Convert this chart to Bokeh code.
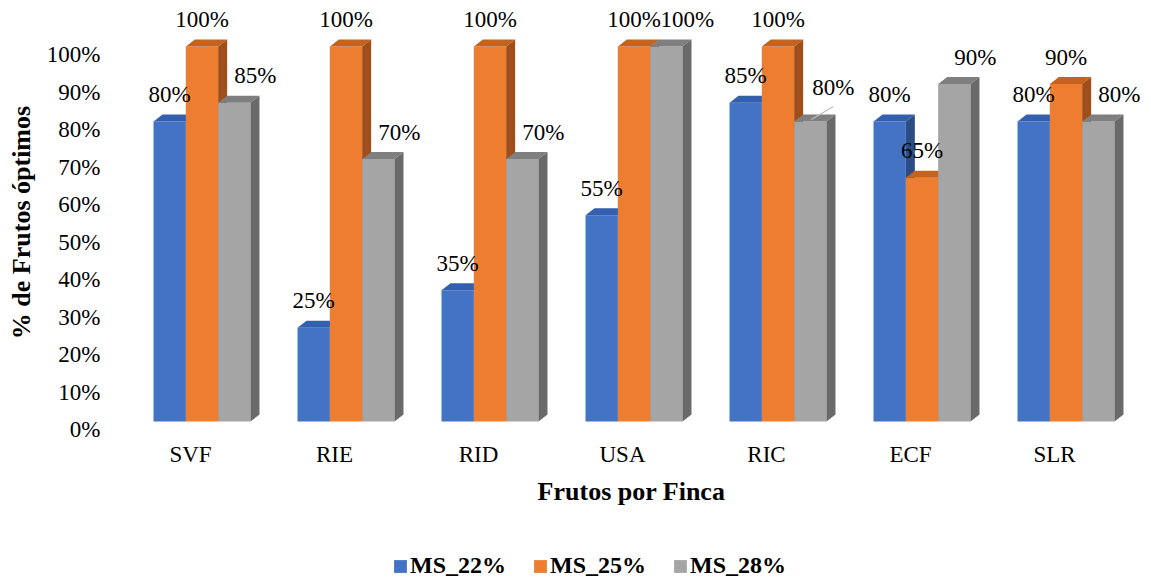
from bokeh.plotting import figure
from bokeh.models import Range1d, FixedTicker, Legend, LegendItem
from bokeh.layouts import column
from bokeh.embed import file_html
from bokeh.resources import INLINE
from bokeh.core.properties import value

# ---------------- data ----------------
categories = ["SVF", "RIE", "RID", "USA", "RIC", "ECF", "SLR"]
series_names = ["MS_22%", "MS_25%", "MS_28%"]
ms22 = [80, 25, 35, 55, 85, 80, 80]
ms25 = [100, 100, 100, 100, 100, 65, 90]
ms28 = [85, 70, 70, 100, 80, 90, 80]
y_ticks = [0, 10, 20, 30, 40, 50, 60, 70, 80, 90, 100]
y_tick_labels = ["0%", "10%", "20%", "30%", "40%", "50%", "60%", "70%", "80%", "90%", "100%"]
x_title = "Frutos por Finca"
y_title = "% de Frutos óptimos"

series_values = [ms22, ms25, ms28]

# ---------------- styles ----------------
front_colors = ["#4472C4", "#ED7D31", "#A5A5A5"]
top_colors = ["#3260AE", "#C4621F", "#7F7F7F"]
side_colors = ["#2C4C85", "#9E4F1A", "#6A6A6A"]
FONT = "Liberation Serif"

W, H = 1150, 540
LEG_H = 41
FL, FR, FT, FB = 118, 1144, 4, 440          # frame edges in canvas px
CAT_PX = 144                                 # px per category
X0 = -0.5
X1 = X0 + (FR - FL) / CAT_PX
XPP = 1 / CAT_PX                             # data units per px (x)
YPX = 3.75                                   # px per y unit
ZERO_PX = 429                                # canvas px of axis zero
Y0 = -(FB - ZERO_PX) / YPX
Y1 = (ZERO_PX - FT) / YPX

BASE = 8 / YPX          # bars sit slightly above the axis zero (3D floor)
DX = 9 * XPP            # depth offset
DY = 7 / YPX
BW = 32.33 * XPP        # bar width
GROUP_LEFT = -37 * XPP  # left edge of first bar relative to category centre
LABEL_UP = -27          # data label baseline offset (px) above bar front top

p = figure(width=W, height=H, output_backend="svg", toolbar_location=None,
           x_range=Range1d(X0, X1), y_range=Range1d(Y0, Y1),
           min_border_left=FL, min_border_right=W - FR,
           min_border_top=FT, min_border_bottom=H - FB)
p.outline_line_color = None
p.grid.visible = False
p.background_fill_color = "white"
p.border_fill_color = "white"

for si, vals in enumerate(series_values):
    lefts, rights, tops, bottoms = [], [], [], []
    top_xs, top_ys, side_xs, side_ys = [], [], [], []
    for ci, v in enumerate(vals):
        l = ci + GROUP_LEFT + si * BW
        r = l + BW
        b = BASE
        t = BASE + v
        lefts.append(l); rights.append(r); tops.append(t); bottoms.append(b)
        top_xs.append([l, r, r + DX, l + DX])
        top_ys.append([t, t, t + DY, t + DY])
        side_xs.append([r, r + DX, r + DX, r])
        side_ys.append([b, b + DY, t + DY, t])
    p.quad(left=lefts, right=rights, top=tops, bottom=bottoms,
           fill_color=front_colors[si], line_color=None)
    p.patches(xs=top_xs, ys=top_ys, fill_color=top_colors[si], line_color=None)
    p.patches(xs=side_xs, ys=side_ys, fill_color=side_colors[si], line_color=None)

# ---------------- data labels ----------------
LEADER = (4, 2)   # (category, series) whose label is moved up with a leader line
for si, vals in enumerate(series_values):
    xs, ys, txt = [], [], []
    for ci, v in enumerate(vals):
        if (ci, si) == LEADER:
            continue
        xs.append(ci + GROUP_LEFT + si * BW + BW / 2)
        ys.append(BASE + v)
        txt.append(f"{v}%")
    p.text(x=xs, y=ys, text=txt, text_align="center", text_baseline="alphabetic",
           x_offset=21 if si == 2 else 0, y_offset=LABEL_UP,
           text_font=value(FONT), text_font_size="23px", text_color="black")

ci, si = LEADER
v = series_values[si][ci]
cx = ci + GROUP_LEFT + si * BW + BW / 2
p.segment(x0=[cx + 1 * XPP], y0=[BASE + v + 2 / YPX],
          x1=[cx + 23 * XPP], y1=[BASE + v + 15 / YPX],
          line_color="#BFBFBF", line_width=1.2)
p.text(x=[cx], y=[BASE + v], text=[f"{v}%"], text_align="center",
       text_baseline="alphabetic", x_offset=23, y_offset=LABEL_UP - 7,
       text_font=value(FONT), text_font_size="23px", text_color="black")

# ---------------- axes ----------------
ya = p.yaxis[0]
ya.ticker = FixedTicker(ticks=y_ticks)
ya.major_label_overrides = {t: l for t, l in zip(y_ticks, y_tick_labels)}
ya.axis_line_color = None
ya.major_tick_line_color = None
ya.minor_tick_line_color = None
ya.major_tick_out = 0
ya.minor_tick_out = 0
ya.major_label_standoff = 18
ya.major_label_text_font = FONT
ya.major_label_text_font_size = "23px"
ya.major_label_text_color = "black"
ya.axis_label = y_title
ya.axis_label_text_font = FONT
ya.axis_label_text_font_style = "bold"
ya.axis_label_text_font_size = "26px"
ya.axis_label_text_color = "black"
ya.axis_label_standoff = 8

xa = p.xaxis[0]
xa.ticker = FixedTicker(ticks=list(range(len(categories))))
xa.major_label_overrides = {i: c for i, c in enumerate(categories)}
xa.axis_line_color = None
xa.major_tick_line_color = None
xa.minor_tick_line_color = None
xa.major_tick_out = 0
xa.minor_tick_out = 0
xa.major_label_standoff = 1
xa.major_label_text_font = FONT
xa.major_label_text_font_size = "23px"
xa.major_label_text_color = "black"
xa.axis_label = x_title
xa.axis_label_text_font = FONT
xa.axis_label_text_font_style = "bold"
xa.axis_label_text_font_size = "26px"
xa.axis_label_text_color = "black"
xa.axis_label_standoff = 7

# ---------------- legend (own strip below the chart) ----------------
pl = figure(width=W, height=LEG_H, output_backend="svg", toolbar_location=None,
            x_range=Range1d(0, 1), y_range=Range1d(0, 1),
            x_axis_type=None, y_axis_type=None,
            min_border_left=0, min_border_right=0, min_border_top=0, min_border_bottom=0)
pl.outline_line_color = None
pl.grid.visible = False
pl.background_fill_color = "white"
pl.border_fill_color = "white"
swatches = []
for si, name in enumerate(series_names):
    # swatch renderer for the legend only (placed outside the visible range)
    swatches.append(pl.quad(left=[2], right=[3], top=[3], bottom=[2],
                            fill_color=front_colors[si], line_color=None))
legend = Legend(items=[LegendItem(label=n, renderers=[r]) for n, r in zip(series_names, swatches)],
                orientation="horizontal", location=(274, 2),
                glyph_width=16, glyph_height=16, label_standoff=2, spacing=26,
                padding=0, margin=0, border_line_color=None, background_fill_alpha=0,
                label_text_font=FONT, label_text_font_style="bold",
                label_text_font_size="24px", label_text_color="black")
pl.add_layout(legend)

layout = column(p, pl, spacing=0)
open("out.html", "w").write(file_html(layout, INLINE))
